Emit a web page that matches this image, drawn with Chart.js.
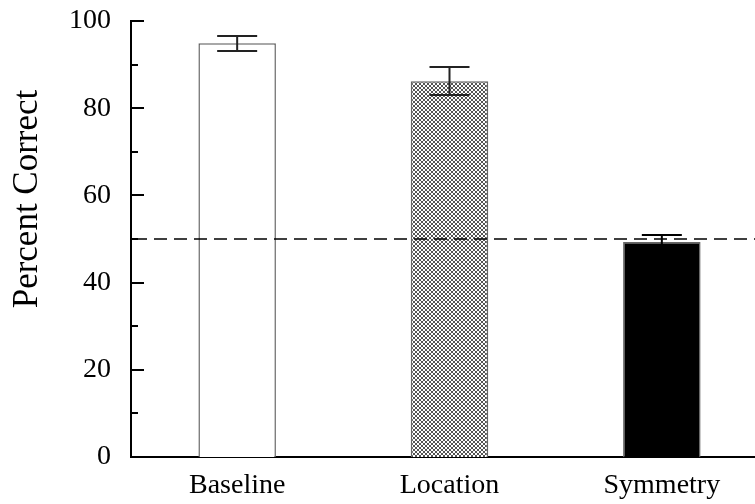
<!DOCTYPE html>
<html>
<head>
<meta charset="utf-8">
<script src="https://cdn.jsdelivr.net/npm/chart.js@4"></script>
<style>
  html, body { margin: 0; padding: 0; background: #fff; overflow: hidden; }
  #wrap { width: 755px; height: 504px; overflow: hidden; }
</style>
</head>
<body>
<div id="wrap"><canvas id="barChart" width="768" height="504"></canvas></div>
<script>
const categories = ["Baseline", "Location", "Symmetry"];
const percentCorrect = [94.9, 86.2, 49.3];
const errors = [1.7, 3.2, 1.6];
const chanceLevel = 50;
const yTicks = [0, 20, 40, 60, 80, 100];
const yMinorTicks = [10, 30, 50, 70, 90];

// cross-hatch fill for the "Location" bar
function hatch() {
  const c = document.createElement("canvas");
  c.width = 4; c.height = 4;
  const g = c.getContext("2d");
  g.fillStyle = "#fff";
  g.fillRect(0, 0, 4, 4);
  g.strokeStyle = "#555";
  g.lineWidth = 1;
  g.beginPath();
  g.moveTo(0, 0); g.lineTo(4, 4);
  g.moveTo(0, 4); g.lineTo(4, 0);
  g.stroke();
  return g.createPattern(c, "repeat");
}

const serif = "'Liberation Serif', 'Times New Roman', serif";
const barFills = ["#fff", hatch(), "#000"];
const errColors = ["#222", "#222", "#000"];

const extras = {
  id: "extras",
  afterDatasetsDraw(chart) {
    const { ctx, chartArea, scales: { x, y } } = chart;
    ctx.save();
    ctx.strokeStyle = "#000";

    // inward tick marks
    ctx.lineWidth = 2;
    yTicks.forEach(v => {
      const py = Math.round(y.getPixelForValue(v));
      ctx.beginPath(); ctx.moveTo(chartArea.left, py); ctx.lineTo(chartArea.left + 13, py); ctx.stroke();
    });
    yMinorTicks.forEach(v => {
      const py = Math.round(y.getPixelForValue(v));
      ctx.beginPath(); ctx.moveTo(chartArea.left, py); ctx.lineTo(chartArea.left + 7, py); ctx.stroke();
    });

    // chance level
    const cy = Math.round(y.getPixelForValue(chanceLevel));
    ctx.lineWidth = 1.5;
    ctx.setLineDash([13, 7]);
    ctx.beginPath(); ctx.moveTo(chartArea.left + 3, cy); ctx.lineTo(chartArea.right, cy); ctx.stroke();
    ctx.setLineDash([]);

    // error bars
    ctx.lineWidth = 2;
    chart.getDatasetMeta(0).data.forEach((bar, i) => {
      const top = Math.round(y.getPixelForValue(percentCorrect[i] + errors[i]));
      const bot = Math.round(y.getPixelForValue(percentCorrect[i] - errors[i]));
      ctx.strokeStyle = errColors[i];
      ctx.beginPath();
      ctx.moveTo(bar.x, top); ctx.lineTo(bar.x, bot);
      ctx.moveTo(bar.x - 20, top); ctx.lineTo(bar.x + 20, top);
      ctx.moveTo(bar.x - 20, bot); ctx.lineTo(bar.x + 20, bot);
      ctx.stroke();
    });

    // y axis title
    ctx.fillStyle = "#000";
    ctx.font = "35px " + serif;
    ctx.textAlign = "center";
    ctx.textBaseline = "middle";
    ctx.translate(28, 199);
    ctx.rotate(-Math.PI / 2);
    ctx.fillText("Percent Correct", 0, 0);
    ctx.restore();
  }
};

let ctx = document.getElementById("barChart").getContext("2d");
let barChart = new Chart(ctx, {
  type: "bar",
  data: {
    labels: categories,
    datasets: [
      {
        data: percentCorrect,
        backgroundColor: barFills,
        borderColor: "#666",
        borderWidth: 1.5,
        barPercentage: 0.365,
        categoryPercentage: 1,
      },
    ],
  },
  options: {
    responsive: false,
    animation: false,
    layout: { padding: { top: 21, left: 0, right: 0, bottom: 0 } },
    plugins: {
      legend: { display: false },
      tooltip: { enabled: false },
    },
    scales: {
      x: {
        grid: { display: false, drawTicks: false },
        border: { display: true, color: "#000", width: 2 },
        ticks: { color: "#000", font: { family: serif, size: 28 }, padding: 12 },
        afterFit: (s) => { s.height = 47; s.paddingLeft = 0; s.paddingRight = 0; },
      },
      y: {
        min: 0,
        max: 100,
        grid: { display: false, drawTicks: false },
        border: { display: true, color: "#000", width: 2 },
        ticks: { color: "#000", font: { family: serif, size: 28 }, padding: 20 },
        afterBuildTicks: (s) => { s.ticks = yTicks.map(v => ({ value: v })); },
        afterFit: (s) => { s.width = 131; s.paddingTop = 0; s.paddingBottom = 0; },
      },
    },
  },
  plugins: [extras],
});
</script>
</body>
</html>
